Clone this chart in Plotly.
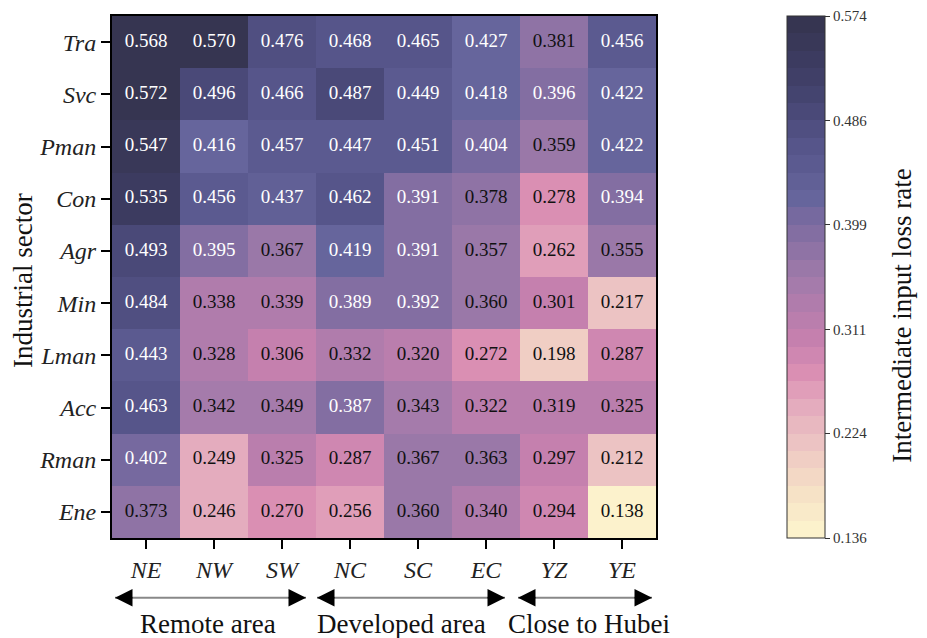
import numpy as np
import plotly.graph_objects as go

# ---------------- data ----------------
regions = ["NE", "NW", "SW", "NC", "SC", "EC", "YZ", "YE"]
sectors = ["Tra", "Svc", "Pman", "Con", "Agr", "Min", "Lman", "Acc", "Rman", "Ene"]

tra = [0.568, 0.570, 0.476, 0.468, 0.465, 0.427, 0.381, 0.456]
svc = [0.572, 0.496, 0.466, 0.487, 0.449, 0.418, 0.396, 0.422]
pman = [0.547, 0.416, 0.457, 0.447, 0.451, 0.404, 0.359, 0.422]
con = [0.535, 0.456, 0.437, 0.462, 0.391, 0.378, 0.278, 0.394]
agr = [0.493, 0.395, 0.367, 0.419, 0.391, 0.357, 0.262, 0.355]
mn = [0.484, 0.338, 0.339, 0.389, 0.392, 0.360, 0.301, 0.217]
lman = [0.443, 0.328, 0.306, 0.332, 0.320, 0.272, 0.198, 0.287]
acc = [0.463, 0.342, 0.349, 0.387, 0.343, 0.322, 0.319, 0.325]
rman = [0.402, 0.249, 0.325, 0.287, 0.367, 0.363, 0.297, 0.212]
ene = [0.373, 0.246, 0.270, 0.256, 0.360, 0.340, 0.294, 0.138]

cbar_ticks = [0.136, 0.224, 0.311, 0.399, 0.486, 0.574]
groups = ["Remote area", "Developed area", "Close to Hubei"]

z = np.array([tra, svc, pman, con, agr, mn, lman, acc, rman, ene])
zmin, zmax = cbar_ticks[0], cbar_ticks[-1]

# ---------------- stepped colorscale ----------------
base = [(0.0, "#fdf6cd"), (0.08, "#f6e3c6"), (0.17, "#eec8c4"), (0.26, "#e3a9bd"),
        (0.31, "#dc91b4"), (0.38, "#c680ae"), (0.50, "#a07aaa"), (0.56, "#8c72a4"),
        (0.605, "#7b6ba0"), (0.65, "#66659c"), (0.75, "#56558a"), (0.87, "#41406a"),
        (1.0, "#34334d")]


def h2rgb(h):
    h = h.lstrip("#")
    return [int(h[i:i + 2], 16) for i in (0, 2, 4)]


def sample(t):
    for (t0, c0), (t1, c1) in zip(base[:-1], base[1:]):
        if t0 <= t <= t1:
            f = (t - t0) / (t1 - t0)
            a, b = h2rgb(c0), h2rgb(c1)
            return "rgb(%d,%d,%d)" % tuple(round(a[k] + f * (b[k] - a[k])) for k in range(3))
    return base[-1][1]


N = 30
colorscale = []
for i in range(N):
    c = sample((i + 0.5) / N)
    colorscale.append([i / N, c])
    colorscale.append([(i + 1) / N, c])

serif = "Liberation Serif, Times New Roman, serif"

# plot area (in page pixels): x 112..656, y 14..538 ; page body has an 8px margin
PW, PH = 544, 524
PX0, PY1 = 112, 538


def px(xp):
    return (xp - PX0) / PW


def py(yp):
    return (PY1 - yp) / PH


fig = go.Figure()
fig.add_trace(go.Heatmap(
    z=z, x=regions, y=sectors, zmin=zmin, zmax=zmax,
    colorscale=colorscale, hoverinfo="skip",
    colorbar=dict(
        x=px(787), xanchor="left", xpad=0, ypad=0,
        y=0.5, yanchor="middle", len=1, lenmode="fraction",
        thickness=38, outlinewidth=1, outlinecolor="#333",
        tickvals=cbar_ticks, ticktext=["%.3f" % v for v in cbar_ticks],
        ticks="outside", ticklen=5, tickwidth=1, tickcolor="#333",
        tickfont=dict(family=serif, size=15, color="#333"),
    ),
))

# cell labels
xx, yy = np.meshgrid(regions, sectors)
vals = z.flatten()
fig.add_trace(go.Scatter(
    x=xx.flatten(), y=yy.flatten(), mode="text",
    text=["%.3f" % v for v in vals],
    textfont=dict(family=serif, size=19,
                  color=["white" if v >= 0.385 else "#111" for v in vals]),
    hoverinfo="skip", showlegend=False,
))

fig.update_xaxes(
    showline=True, linewidth=2, linecolor="black", mirror=True,
    ticks="outside", ticklen=9, tickwidth=2, tickcolor="black",
    tickfont=dict(family=serif, size=24, color="#222", style="italic"),
    showgrid=False, zeroline=False,
)
fig.update_yaxes(
    autorange="reversed",
    showline=True, linewidth=2, linecolor="black", mirror=True,
    ticks="outside", ticklen=9, tickwidth=2, tickcolor="black",
    tickfont=dict(family=serif, size=24, color="#222", style="italic"),
    showgrid=False, zeroline=False,
)

annotations = [
    dict(text="Industrial sector", xref="paper", yref="paper",
         x=px(23), y=py(280), xanchor="center", yanchor="middle",
         textangle=-90, showarrow=False,
         font=dict(family=serif, size=27, color="#111")),
    dict(text="Intermediate input loss rate", xref="paper", yref="paper",
         x=px(902), y=py(315), xanchor="center", yanchor="middle",
         textangle=-90, showarrow=False,
         font=dict(family=serif, size=27, color="#111")),
]

# group arrows and labels
spans = [(115, 306), (317, 505), (518, 652)]
label_x = [208, 401, 589]
arrow_y = py(598)
text_y = py(624)
shapes = []
for (x0, x1), g, lx in zip(spans, groups, label_x):
    shapes.append(dict(type="line", xref="paper", yref="paper", x0=px(x0), x1=px(x1),
                       y0=arrow_y, y1=arrow_y, line=dict(color="#888", width=2)))
    for tip, off in ((x0, 19), (x1, -19)):
        annotations.append(dict(x=px(tip), y=arrow_y, xref="paper", yref="paper", text="",
                                showarrow=True, ax=off, ay=0, arrowhead=2,
                                arrowsize=3.5, arrowwidth=1, arrowcolor="black",
                                standoff=0, startstandoff=0))
    annotations.append(dict(text=g, x=px(lx), y=text_y, xref="paper", yref="paper",
                            xanchor="center", yanchor="middle",
                            showarrow=False, font=dict(family=serif, size=27, color="#111")))

fig.update_layout(
    width=919, height=630,
    margin=dict(l=PX0 - 8, r=919 + 8 - (PX0 + PW), t=14 - 8, b=630 + 8 - PY1),
    paper_bgcolor="white", plot_bgcolor="white",
    annotations=annotations, shapes=shapes,
    showlegend=False,
)

fig.write_html("out.html")
